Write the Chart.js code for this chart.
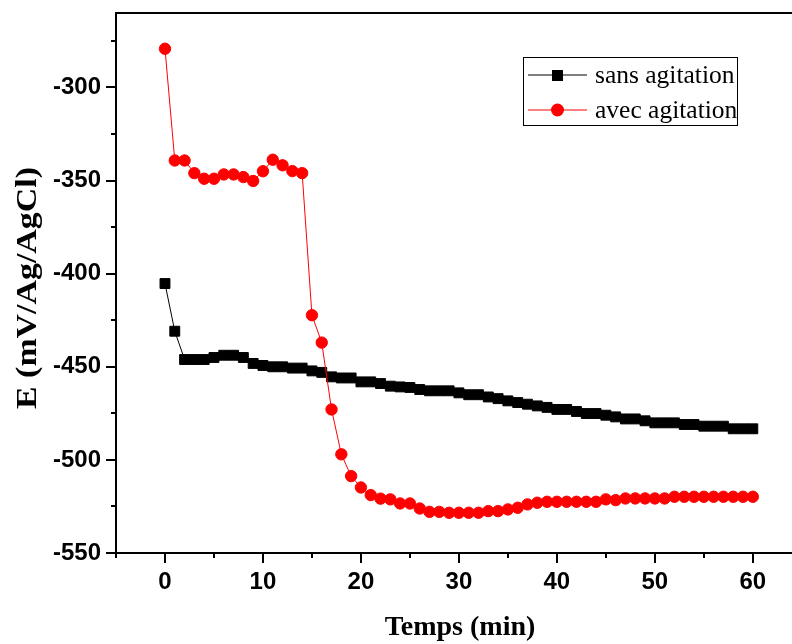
<!DOCTYPE html>
<html>
<head>
<meta charset="utf-8">
<script src="https://cdn.jsdelivr.net/npm/chart.js@4/dist/chart.umd.min.js"></script>
<style>
  html, body { margin: 0; padding: 0; background: #fff; }
  #wrap { width: 792px; height: 644px; }
</style>
</head>
<body>
<div id="wrap"><canvas id="c" width="792" height="644"></canvas></div>
<script>
// Time in minutes
const minutes = [0,1,2,3,4,5,6,7,8,9,10,11,12,13,14,15,16,17,18,19,20,21,22,23,24,25,26,27,28,29,30,
  31,32,33,34,35,36,37,38,39,40,41,42,43,44,45,46,47,48,49,50,51,52,53,54,55,56,57,58,59,60];

// Potential E (mV vs Ag/AgCl), without stirring
const sansAgitation = [-405.3,-430.9,-446.1,-446.1,-446.1,-445,-443.8,-443.8,-445,-448.2,
  -449.3,-450,-450,-450.7,-450.7,-452.2,-453,-455.4,-456,-456,
  -458.1,-458.1,-459,-460.4,-460.8,-461.1,-462.2,-462.9,-462.9,-462.9,
  -464,-465,-465,-466.2,-467.1,-468.3,-469.2,-470.1,-471,-471.8,
  -472.9,-472.9,-474,-475.1,-475.1,-476,-476.9,-478,-478,-479,
  -480.1,-480.1,-480.1,-481,-481,-481.9,-481.9,-481.9,-483.3,-483.3,-483.3];

// Potential E (mV vs Ag/AgCl), with stirring
const avecAgitation = [-279.2,-339.2,-339.2,-346,-349,-349,-346.7,-346.7,-348.1,-350.2,
  -345,-338.8,-341.8,-344.9,-346,-422.3,-437,-472.9,-497,-508.7,
  -514.8,-518.9,-520.8,-521.2,-523.4,-523.4,-526.1,-527.9,-527.9,-528.4,
  -528.4,-528.4,-528.4,-527.5,-527.5,-526.6,-525.7,-523.9,-523,-522.5,
  -522.5,-522.5,-522.5,-522.5,-522.5,-521.2,-521.6,-520.7,-520.7,-520.7,
  -520.7,-520.7,-519.8,-519.8,-519.8,-519.8,-519.8,-519.8,-519.8,-519.8,-519.8];

// Axis tick values (labels every 10 min / 50 mV, minor marks in between)
const xTickValues = [-5,0,5,10,15,20,25,30,35,40,45,50,55,60];
const yTickValues = [-550,-525,-500,-475,-450,-425,-400,-375,-350,-325,-300,-275];

const seriesNames = ['sans agitation', 'avec agitation'];
const xTitle = 'Temps (min)';
const yTitle = 'E (mV/Ag/AgCl)';

const toPoints = vals => minutes.map((m, i) => ({ x: m, y: vals[i] }));

// Tick marks, top frame line, axis titles and the boxed legend
const decor = {
  id: 'decor',
  afterDraw(chart) {
    const { ctx, chartArea: a, scales: { x, y } } = chart;
    ctx.save();
    ctx.strokeStyle = '#000';
    ctx.lineWidth = 2;
    ctx.beginPath();
    ctx.moveTo(a.left - 1, a.top);
    ctx.lineTo(a.right + 2, a.top);
    ctx.stroke();

    xTickValues.forEach(v => {
      const px = Math.round(x.getPixelForValue(v));
      const len = v % 10 === 0 ? 10 : 5;
      ctx.beginPath();
      ctx.moveTo(px, a.bottom);
      ctx.lineTo(px, a.bottom + len);
      ctx.stroke();
    });
    yTickValues.forEach(v => {
      const py = Math.round(y.getPixelForValue(v));
      const len = v % 50 === 0 ? 10 : 5;
      ctx.beginPath();
      ctx.moveTo(a.left, py);
      ctx.lineTo(a.left - len, py);
      ctx.stroke();
    });

    // axis titles
    ctx.fillStyle = '#000';
    ctx.textAlign = 'center';
    ctx.textBaseline = 'middle';
    ctx.font = 'bold 28px "Liberation Serif", "Times New Roman", serif';
    ctx.fillText(xTitle, 460, 628);
    ctx.save();
    ctx.translate(28, 288);
    ctx.rotate(-Math.PI / 2);
    ctx.scale(1.13, 1);
    ctx.font = 'bold 30px "Liberation Serif", "Times New Roman", serif';
    ctx.fillText(yTitle, 0, 0);
    ctx.restore();

    // legend
    const box = { x: 523.5, y: 57.5, w: 214, h: 68 };
    ctx.lineWidth = 1;
    ctx.strokeStyle = '#000';
    ctx.strokeRect(box.x, box.y, box.w, box.h);
    ctx.font = '25.5px "Liberation Serif", "Times New Roman", serif';
    ctx.textAlign = 'left';
    const rows = [75, 110];
    chart.data.datasets.forEach((ds, i) => {
      const ly = rows[i];
      ctx.strokeStyle = ds.borderColor;
      ctx.lineWidth = 1;
      ctx.beginPath();
      ctx.moveTo(528, ly);
      ctx.lineTo(587, ly);
      ctx.stroke();
      ctx.fillStyle = ds.pointBackgroundColor;
      if (ds.pointStyle === 'rect') {
        ctx.fillRect(552, ly - 5, 11, 11);
      } else {
        ctx.beginPath();
        ctx.arc(557.5, ly, 6.5, 0, Math.PI * 2);
        ctx.fill();
      }
      ctx.fillStyle = '#000';
      ctx.fillText(ds.label, 595, ly + 1);
    });
    ctx.restore();
  }
};

new Chart(document.getElementById('c'), {
  type: 'line',
  data: {
    datasets: [
      {
        label: seriesNames[0],
        data: toPoints(sansAgitation),
        borderColor: '#000000',
        backgroundColor: '#000000',
        pointBackgroundColor: '#000000',
        pointBorderColor: '#000000',
        pointStyle: 'rect',
        pointRadius: 7,
        pointBorderWidth: 1,
        borderWidth: 1,
        tension: 0,
        order: 1
      },
      {
        label: seriesNames[1],
        data: toPoints(avecAgitation),
        borderColor: '#ff0000',
        backgroundColor: '#ff0000',
        pointBackgroundColor: '#ff0000',
        pointBorderColor: '#ff0000',
        pointStyle: 'circle',
        pointRadius: 5.7,
        pointBorderWidth: 1,
        borderWidth: 1,
        tension: 0,
        order: 0
      }
    ]
  },
  options: {
    responsive: false,
    animation: false,
    clip: false,
    layout: { autoPadding: false, padding: { top: 13, left: 0, right: 0, bottom: 0 } },
    plugins: { legend: { display: false }, tooltip: { enabled: false } },
    scales: {
      x: {
        type: 'linear',
        min: -5,
        max: 64,
        afterBuildTicks: s => { s.ticks = xTickValues.map(v => ({ value: v })); },
        afterFit: s => { s.height = 91; s.paddingLeft = 0; s.paddingRight = 0; },
        grid: { display: false, drawTicks: false },
        border: { display: true, color: '#000', width: 2 },
        ticks: {
          autoSkip: false,
          maxRotation: 0,
          padding: 15,
          color: '#000',
          font: { family: '"Liberation Sans", Arial, sans-serif', size: 24, weight: 'bold' },
          callback: v => (v % 10 === 0 && v >= 0 ? String(v) : '')
        }
      },
      y: {
        type: 'linear',
        min: -550,
        max: -260,
        afterBuildTicks: s => { s.ticks = yTickValues.map(v => ({ value: v })); },
        afterFit: s => { s.width = 116; s.paddingTop = 0; s.paddingBottom = 0; },
        grid: { display: false, drawTicks: false },
        border: { display: true, color: '#000', width: 2 },
        ticks: {
          autoSkip: false,
          padding: 15,
          color: '#000',
          font: { family: '"Liberation Sans", Arial, sans-serif', size: 24, weight: 'bold' },
          callback: v => (v % 50 === 0 ? String(v) : '')
        }
      }
    }
  },
  plugins: [decor]
});
</script>
</body>
</html>
